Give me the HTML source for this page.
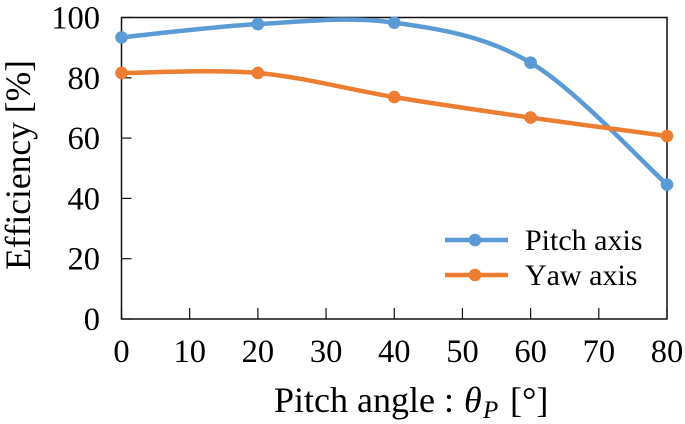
<!DOCTYPE html>
<html>
<head>
<meta charset="utf-8">
<style>
html,body{margin:0;padding:0;background:#fff;width:685px;height:424px;overflow:hidden}
svg{display:block}
text{font-family:"Liberation Serif","Times New Roman",serif;fill:#000;font-kerning:none}
</style>
</head>
<body>
<svg id="chart" width="685" height="424" viewBox="0 0 685 424" xmlns="http://www.w3.org/2000/svg">
  <text transform="translate(30,165) rotate(-90)" text-anchor="middle" font-size="35.5">Efficiency [%]</text>
  <text y="412" font-size="36"><tspan x="274">Pitch angle :</tspan><tspan x="464" font-style="italic">θ</tspan><tspan x="483" font-style="italic" font-size="25" dy="6">P</tspan><tspan x="510" dy="-6">[°]</tspan></text>
</svg>
<script>
var xTickLabels = [0, 10, 20, 30, 40, 50, 60, 70, 80];
var yTickLabels = [0, 20, 40, 60, 80, 100];
var angles = [0, 20, 40, 60, 80];
var pitchEfficiency = [93.4, 97.8, 98.3, 85, 44.6];
var yawEfficiency = [81.6, 81.6, 73.6, 66.8, 60.7];
var seriesNames = ['Pitch axis', 'Yaw axis'];

var svg = document.getElementById('chart');
var NS = 'http://www.w3.org/2000/svg';
var left = 121.5, right = 667, top_ = 17.5, bottom = 319;
function xScale(v) { return left + (v / 80) * (right - left); }
function yScale(v) { return bottom - (v / 100) * (bottom - top_); }
function make(tag, attrs) {
  var el = document.createElementNS(NS, tag);
  for (var k in attrs) el.setAttribute(k, attrs[k]);
  return el;
}
function smoothPath(xs, ys) {
  var pts = xs.map(function (x, i) { return [xScale(x), yScale(ys[i])]; });
  var d = 'M' + pts[0][0] + ' ' + pts[0][1];
  for (var i = 0; i < pts.length - 1; i++) {
    var p0 = pts[Math.max(i - 1, 0)], p1 = pts[i], p2 = pts[i + 1], p3 = pts[Math.min(i + 2, pts.length - 1)];
    var c1x = p1[0] + (p2[0] - p0[0]) / 6, c1y = p1[1] + (p2[1] - p0[1]) / 6;
    var c2x = p2[0] - (p3[0] - p1[0]) / 6, c2y = p2[1] - (p3[1] - p1[1]) / 6;
    d += ' C' + c1x + ' ' + c1y + ' ' + c2x + ' ' + c2y + ' ' + p2[0] + ' ' + p2[1];
  }
  return d;
}

var frame = make('rect', { x: left, y: top_, width: right - left, height: bottom - top_, fill: 'none', stroke: '#111', 'stroke-width': 1.5 });


svg.appendChild(frame);

xTickLabels.forEach(function (v) {
  var x = xScale(v);
  var tick = make('line', { x1: x, x2: x, y1: bottom, y2: bottom - 11, stroke: '#111', 'stroke-width': 1.2 });
  
  
  svg.appendChild(tick);
  var label = make('text', { x: x, y: 362, 'text-anchor': 'middle', 'font-size': 32.5 });
  
  
  label.textContent = v;
  svg.appendChild(label);
});

yTickLabels.forEach(function (v) {
  var y = yScale(v);
  var tick = make('line', { x1: left, x2: left + 10, y1: y, y2: y, stroke: '#111', 'stroke-width': 1.2 });
  
  
  svg.appendChild(tick);
  var label = make('text', { x: 100, y: y + 11, 'text-anchor': 'end', 'font-size': 32.5 });
  
  
  label.textContent = v;
  svg.appendChild(label);
});

function drawSeries(values, color, lineName, pointName) {
  var path = make('path', { d: smoothPath(angles, values), fill: 'none', stroke: color, 'stroke-width': 4.5, 'stroke-linecap': 'round' });
  
  
  svg.appendChild(path);
  values.forEach(function (v, i) {
    var c = make('circle', { cx: xScale(angles[i]), cy: yScale(v), r: 6.3, fill: color });
    
    
    svg.appendChild(c);
  });
}
drawSeries(pitchEfficiency, '#5b9bd5', 'pitch-axis-line', 'pitch-axis-point');
drawSeries(yawEfficiency, '#ed7d31', 'yaw-axis-line', 'yaw-axis-point');

function drawLegend(name, color, y) {
  var line = make('line', { x1: 445, x2: 508, y1: y, y2: y, stroke: color, 'stroke-width': 4.5 });
  
  
  svg.appendChild(line);
  var dot = make('circle', { cx: 475, cy: y, r: 6.3, fill: color });
  
  
  svg.appendChild(dot);
  var label = make('text', { x: 525, y: y + 10, 'font-size': 30 });
  
  
  label.textContent = name;
  svg.appendChild(label);
}
drawLegend(seriesNames[0], '#5b9bd5', 240);
drawLegend(seriesNames[1], '#ed7d31', 275);
</script>
</body>
</html>
